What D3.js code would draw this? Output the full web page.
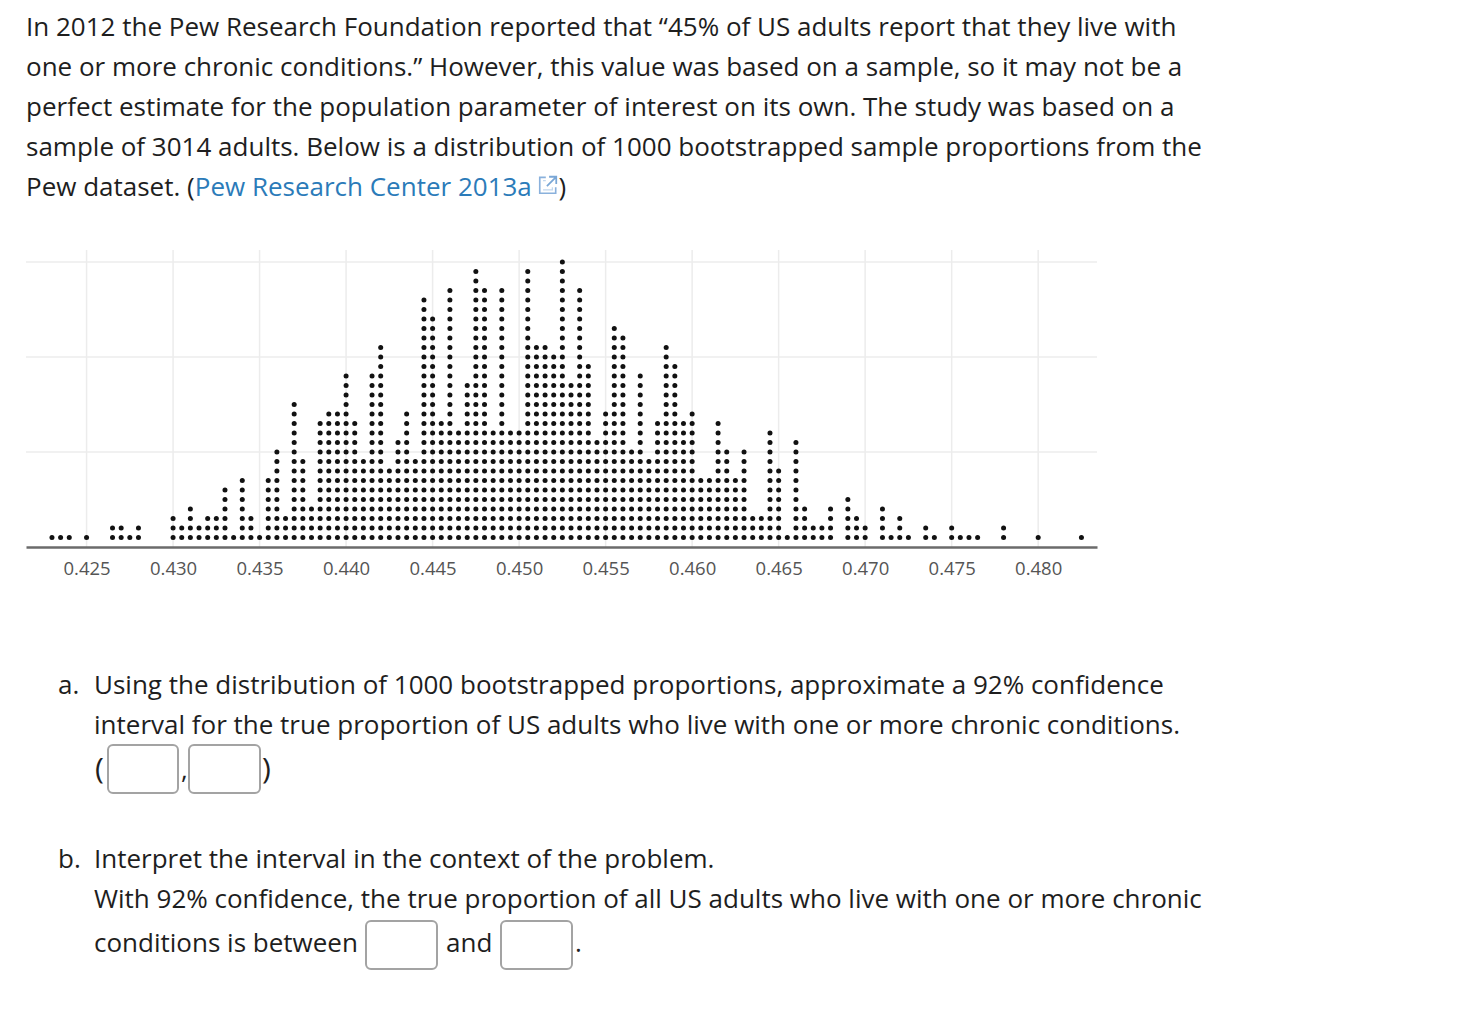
<!DOCTYPE html>
<html>

<head>
    <meta charset="UTF-8">
    <title>Bootstrap Dot Plot</title>
    <script src="https://cdn.jsdelivr.net/npm/d3@7"></script>
    <style>
        body {
            margin: 0;
            background: #fff;
            font-family: "Open Sans", sans-serif;
            color: #1e1e1e;
        }

        .t {
            position: absolute;
            font-size: 26px;
            line-height: 40px;
            white-space: nowrap;
        }

        .paren {
            font-size: 30px;
        }

        a {
            color: #2b7bb9;
            text-decoration: none;
        }

        .box {
            position: absolute;
            box-sizing: border-box;
            border: 2px solid #a3a3a3;
            border-radius: 6px;
            background: #fff;
        }

        #chart {
            position: absolute;
            left: 0;
            top: 240px;
        }
    </style>
</head>

<body>
    <div class="t" style="left:26px; top:6px;">
        In 2012 the Pew Research Foundation reported that “45% of US adults report that they live with<br>
        one or more chronic conditions.” However, this value was based on a sample, so it may not be a<br>
        perfect estimate for the population parameter of interest on its own. The study was based on a<br>
        sample of 3014 adults. Below is a distribution of 1000 bootstrapped sample proportions from the<br>
        Pew dataset. (<a href="#">Pew Research Center 2013a</a>
        <svg width="22" height="22" viewBox="0 0 20 20" style="vertical-align:0px; margin-left:-2px;">
            <path d="M8 3 H2.5 V17.5 H17 V12" fill="none" stroke="#8ab1dc" stroke-width="1.5"/>
            <path d="M5.5 6 H8 M5.5 14.5 H14 V12" fill="none" stroke="#c2d7ee" stroke-width="1.2"/>
            <path d="M11 2.5 H17.5 V9 M17 3 L9 11" fill="none" stroke="#7aa7d6" stroke-width="1.6"/>
        </svg>)
    </div>

    <svg id="chart"></svg>

    <div class="t" style="left:58px; top:664px;">a.</div>
    <div class="t" style="left:94px; top:664px;">
        Using the distribution of 1000 bootstrapped proportions, approximate a 92% confidence<br>
        interval for the true proportion of US adults who live with one or more chronic conditions.
    </div>
    <div class="t paren" style="left:95px; top:748px;">(</div>
    <div class="box" style="left:107px; top:744px; width:72px; height:50px;"></div>
    <div class="t" style="left:181px; top:749px;">,</div>
    <div class="box" style="left:188px; top:744px; width:73px; height:50px;"></div>
    <div class="t paren" style="left:262px; top:748px;">)</div>

    <div class="t" style="left:58px; top:838px;">b.</div>
    <div class="t" style="left:94px; top:838px;">Interpret the interval in the context of the problem.</div>
    <div class="t" style="left:94px; top:878px;">With 92% confidence, the true proportion of all US adults who live with one or more chronic</div>
    <div class="t" style="left:94px; top:922px;">conditions is between</div>
    <div class="box" style="left:365px; top:920px; width:73px; height:50px;"></div>
    <div class="t" style="left:446px; top:922px;">and</div>
    <div class="box" style="left:500px; top:920px; width:73px; height:50px;"></div>
    <div class="t" style="left:575px; top:922px;">.</div>

    <script>
        // bootstrapped sample proportions, one entry per dot column
        const proportions = [
            0.4230, 0.4235, 0.4240, 0.4245, 0.4250, 0.4255, 0.4260, 0.4265, 0.4270, 0.4275,
            0.4280, 0.4285, 0.4290, 0.4295, 0.4300, 0.4305, 0.4310, 0.4315, 0.4320, 0.4325,
            0.4330, 0.4335, 0.4340, 0.4345, 0.4350, 0.4355, 0.4360, 0.4365, 0.4370, 0.4375,
            0.4380, 0.4385, 0.4390, 0.4395, 0.4400, 0.4405, 0.4410, 0.4415, 0.4420, 0.4425,
            0.4430, 0.4435, 0.4440, 0.4445, 0.4450, 0.4455, 0.4460, 0.4465, 0.4470, 0.4475,
            0.4480, 0.4485, 0.4490, 0.4495, 0.4500, 0.4505, 0.4510, 0.4515, 0.4520, 0.4525,
            0.4530, 0.4535, 0.4540, 0.4545, 0.4550, 0.4555, 0.4560, 0.4565, 0.4570, 0.4575,
            0.4580, 0.4585, 0.4590, 0.4595, 0.4600, 0.4605, 0.4610, 0.4615, 0.4620, 0.4625,
            0.4630, 0.4635, 0.4640, 0.4645, 0.4650, 0.4655, 0.4660, 0.4665, 0.4670, 0.4675,
            0.4680, 0.4685, 0.4690, 0.4695, 0.4700, 0.4705, 0.4710, 0.4715, 0.4720, 0.4725,
            0.4730, 0.4735, 0.4740, 0.4745, 0.4750, 0.4755, 0.4760, 0.4765, 0.4770, 0.4775,
            0.4780, 0.4785, 0.4790, 0.4795, 0.4800, 0.4805, 0.4810, 0.4815, 0.4820, 0.4825
        ];

        // number of bootstrap samples (dots) in each column -- adds up to 1000
        const counts = [
            1, 1, 1, 0, 1, 0, 0, 2, 2, 1,
            2, 0, 0, 0, 3, 2, 4, 2, 3, 3,
            6, 1, 7, 3, 1, 7, 10, 3, 15, 9,
            4, 13, 14, 14, 18, 13, 9, 18, 21, 8,
            11, 14, 9, 26, 24, 13, 27, 12, 17, 29,
            27, 12, 27, 12, 12, 29, 21, 21, 20, 30,
            17, 27, 19, 11, 14, 23, 22, 10, 18, 9,
            13, 21, 19, 13, 14, 7, 7, 13, 10, 7,
            10, 3, 3, 12, 8, 1, 11, 4, 2, 2,
            4, 0, 5, 3, 2, 0, 4, 1, 3, 1,
            0, 2, 1, 0, 2, 1, 1, 1, 0, 0,
            2, 0, 0, 0, 1, 0, 0, 0, 0, 1
        ];

        const xTicks = [0.425, 0.430, 0.435, 0.440, 0.445, 0.450, 0.455, 0.460, 0.465, 0.470, 0.475, 0.480];
        const yGrid = [10, 20, 30];

        const width = 1120;
        const height = 360;
        const plotLeft = 26, plotRight = 1097, plotTop = 10, plotBottom = 307;

        const svg = d3.select('#chart')
            .attr('width', width)
            .attr('height', height);

        const x = d3.scaleLinear()
            .domain([0.4215, 0.4834])
            .range([plotLeft, plotRight]);

        const y = d3.scaleLinear()
            .domain([0, 31.26])
            .range([plotBottom, plotTop]);

        // grid
        svg.append('g')
            .attr('stroke', '#ececec')
            .attr('stroke-width', 1.5)
            .selectAll('line')
            .data(xTicks)
            .join('line')
            .attr('x1', d => x(d))
            .attr('x2', d => x(d))
            .attr('y1', plotTop)
            .attr('y2', plotBottom);

        svg.append('g')
            .attr('stroke', '#ececec')
            .attr('stroke-width', 1.5)
            .selectAll('line')
            .data(yGrid)
            .join('line')
            .attr('x1', plotLeft)
            .attr('x2', plotRight)
            .attr('y1', d => y(d))
            .attr('y2', d => y(d));

        // one circle per bootstrap sample, stacked in its column
        const dots = [];
        proportions.forEach((p, i) => {
            for (let k = 1; k <= counts[i]; k++) dots.push({ p, k });
        });

        svg.append('g')
            .attr('fill', '#111')
            .selectAll('circle')
            .data(dots)
            .join('circle')
            .attr('cx', d => x(d.p))
            .attr('cy', d => y(d.k))
            .attr('r', 2.5);

        // axis
        const axis = svg.append('g')
            .attr('transform', `translate(0,${plotBottom})`)
            .call(d3.axisBottom(x)
                .tickValues(xTicks)
                .tickFormat(d3.format('.3f'))
                .tickSize(0)
                .tickPadding(15));

        axis.select('.domain')
            .attr('stroke', '#6b6b6b')
            .attr('stroke-width', 2.5);

        axis.selectAll('text')
            .attr('fill', '#555')
            .style('font-family', '"Open Sans", sans-serif')
            .style('font-size', '18.5px');
    </script>
</body>

</html>
